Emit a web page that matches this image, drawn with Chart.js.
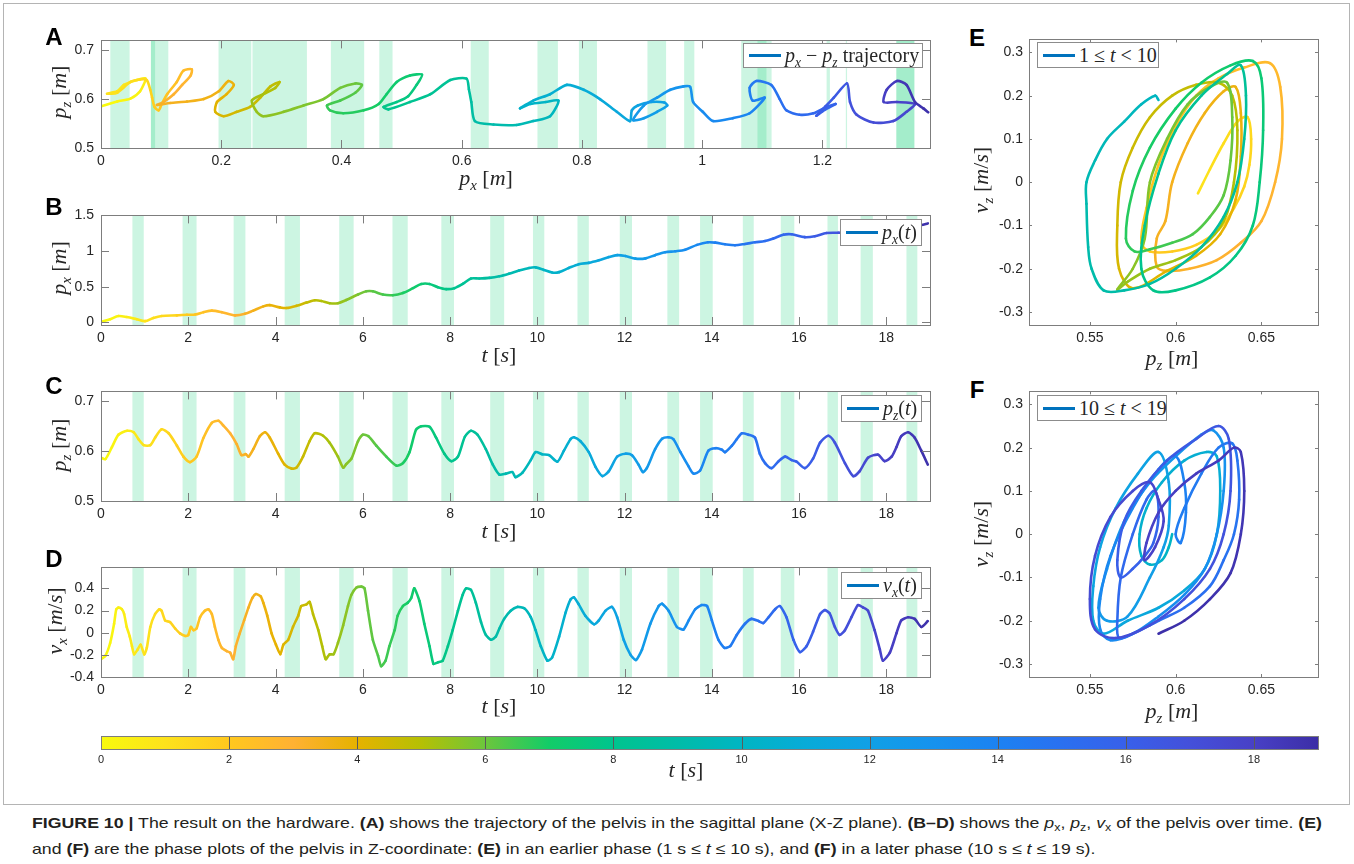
<!DOCTYPE html>
<html>
<head>
<meta charset="utf-8">
<script src="https://cdn.jsdelivr.net/npm/chart.js@4.4.1/dist/chart.umd.min.js"></script>
<style>
  body { margin: 0; background: #fff; }
  #fig { position: relative; width: 1354px; height: 864px; overflow: hidden; background: #fff;
         font-family: "Liberation Sans", Arial, sans-serif; }
  #frame { position: absolute; left: 3px; top: 3px; width: 1347px; height: 802px; border: 1px solid #b4b4b4; box-sizing: border-box; }
  canvas { position: absolute; }
  .lbl { position: absolute; white-space: nowrap; transform: translate(-50%, -50%); }
  .math { font-family: "Liberation Serif", "Times New Roman", serif; font-size: 22px; color: #262626; }
  .math sub, .leg sub { font-size: 68%; vertical-align: -0.35em; line-height: 0; }
  .rot { transform: translate(-50%, -50%) rotate(-90deg); }
  .panel { font-weight: bold; font-size: 24px; color: #000; }
  .leg { position: absolute; background: #fff; border: 1px solid #8c8c8c; box-sizing: border-box;
         display: flex; align-items: center; white-space: nowrap;
         font-family: "Liberation Serif", "Times New Roman", serif; font-size: 20px; color: #262626; }
  .leg .sw { width: 32px; height: 3px; background: #0072bd; margin: 0 4px 0 5px; flex: none; }
  .cap { position: absolute; left: 32px; white-space: nowrap; font-size: 15px; color: #231f20;
         transform-origin: 0 50%; }
  .cap sub { font-size: 70%; vertical-align: -0.25em; line-height: 0; }
</style>
</head>
<body>
<div id="fig"><div id="frame"></div></div>
<script>
// ---- data ----

// colour map: time [s] -> colour
const mapTimes = [0, 1, 2, 3, 4, 5, 6, 7, 8, 9, 10, 11, 12, 13, 14, 15, 16, 17, 18, 19];
const mapColors = ["#f8fa0d", "#fde21c", "#ffc81e", "#ffb133", "#e6b200", "#b5c004", "#6cc63c",
  "#12cc68", "#00c48e", "#00bca8", "#00b5c3", "#08abd8", "#10a0e6", "#1692ee", "#1c82f2",
  "#2a70f0", "#3860ea", "#4450da", "#4840c6", "#3c2ea6"];
const barTicks = [0, 2, 4, 6, 8, 10, 12, 14, 16, 18];

// stance phases (shaded), time axis
const stanceStart = [0.72, 1.87, 3.04, 4.21, 5.46, 6.68, 7.80, 8.92, 9.90, 10.92, 11.89, 12.98, 13.73, 14.71, 15.58, 16.65, 17.41, 18.46];
const stanceEnd   = [0.98, 2.19, 3.31, 4.56, 5.79, 7.03, 8.09, 9.24, 10.16, 11.18, 12.17, 13.25, 14.02, 14.96, 15.89, 16.89, 17.69, 18.71];
// stance phases, p_x axis (panel A)
const footStart = [0.0155, 0.083, 0.083, 0.1955, 0.252, 0.3824, 0.463, 0.615, 0.726, 0.795, 0.909, 0.970, 1.065, 1.092, 1.207, 1.239, 1.323, 1.323];
const footEnd   = [0.0476, 0.112, 0.090, 0.250, 0.3425, 0.4378, 0.485, 0.645, 0.760, 0.825, 0.940, 0.987, 1.1155, 1.107, 1.2125, 1.241, 1.353, 1.353];

// B: p_x(t)
const pxTime = [0, 0.21, 0.4, 0.59, 0.82, 1.01, 1.2, 1.39, 1.74, 1.97, 2.16, 2.35, 2.54, 2.77, 3.07, 3.3, 3.49, 3.72, 3.87, 4.1,
  4.25, 4.48, 4.71, 4.9, 5.05, 5.24, 5.43, 5.62, 5.89, 6.08, 6.23, 6.46, 6.69, 6.92, 7.15, 7.34, 7.53, 7.72, 7.91, 8.1,
  8.29, 8.48, 8.67, 8.9, 9.13, 9.35, 9.58, 9.81, 9.96, 10.15, 10.34, 10.5, 10.72, 10.95, 11.18, 11.41, 11.64, 11.83, 12.02, 12.25,
  12.48, 12.7, 12.93, 13.16, 13.39, 13.66, 13.91, 14.08, 14.3, 14.53, 14.76, 14.99, 15.22, 15.41, 15.64, 15.83, 16.13, 16.36, 16.63, 16.9,
  17.2, 17.5, 17.8, 18.1, 18.4, 18.6, 18.8, 18.95];
const pxValue = [0.010, 0.045, 0.090, 0.076, 0.045, 0.018, 0.063, 0.090, 0.099, 0.108, 0.112, 0.144, 0.166, 0.144, 0.099, 0.121, 0.166, 0.225, 0.242, 0.211,
  0.202, 0.233, 0.278, 0.310, 0.301, 0.269, 0.269, 0.314, 0.391, 0.436, 0.436, 0.391, 0.382, 0.413, 0.480, 0.539, 0.539, 0.494, 0.467, 0.480,
  0.539, 0.615, 0.615, 0.624, 0.647, 0.683, 0.727, 0.763, 0.772, 0.736, 0.700, 0.705, 0.763, 0.817, 0.835, 0.871, 0.916, 0.943, 0.930, 0.894,
  0.898, 0.943, 0.983, 0.997, 1.019, 1.087, 1.123, 1.118, 1.096, 1.082, 1.100, 1.123, 1.141, 1.177, 1.230, 1.235, 1.195, 1.208, 1.253, 1.257,
  1.260, 1.268, 1.290, 1.300, 1.330, 1.350, 1.365, 1.388];

// C: p_z(t)
const pzTime = [0, 0.1, 0.25, 0.4, 0.6, 0.75, 0.86, 0.98, 1.13, 1.24, 1.39, 1.55, 1.74, 1.89, 2.04, 2.19, 2.35, 2.54, 2.69, 2.8,
  2.96, 3.11, 3.22, 3.32, 3.38, 3.49, 3.64, 3.76, 3.87, 4.06, 4.21, 4.37, 4.48, 4.63, 4.78, 4.9, 5.09, 5.24, 5.43, 5.55,
  5.62, 5.74, 5.89, 6.0, 6.13, 6.31, 6.54, 6.77, 6.92, 7.07, 7.22, 7.34, 7.53, 7.68, 7.87, 8.03, 8.18, 8.34, 8.48, 8.63,
  8.82, 8.98, 9.13, 9.28, 9.43, 9.5, 9.66, 9.85, 9.96, 10.11, 10.27, 10.46, 10.61, 10.76, 10.84, 10.99, 11.18, 11.33, 11.49, 11.64,
  11.83, 12.02, 12.17, 12.32, 12.42, 12.51, 12.7, 12.86, 13.01, 13.12, 13.28, 13.47, 13.58, 13.73, 13.92, 14.08, 14.23, 14.3, 14.46, 14.57,
  14.69, 14.84, 14.99, 15.1, 15.22, 15.37, 15.52, 15.68, 15.83, 15.94, 16.13, 16.32, 16.48, 16.67, 16.82, 17.05, 17.24, 17.39, 17.58, 17.81,
  17.96, 18.12, 18.23, 18.34, 18.5, 18.65, 18.8, 18.95];
const pzValue = [0.587, 0.584, 0.608, 0.633, 0.641, 0.638, 0.624, 0.612, 0.612, 0.627, 0.644, 0.636, 0.611, 0.589, 0.578, 0.589, 0.627, 0.657, 0.661, 0.652,
  0.636, 0.614, 0.592, 0.594, 0.589, 0.604, 0.630, 0.638, 0.627, 0.595, 0.573, 0.565, 0.567, 0.589, 0.620, 0.636, 0.631, 0.617, 0.589, 0.567,
  0.574, 0.585, 0.620, 0.633, 0.630, 0.611, 0.589, 0.571, 0.576, 0.598, 0.643, 0.650, 0.649, 0.627, 0.595, 0.580, 0.589, 0.629, 0.641, 0.633,
  0.604, 0.573, 0.553, 0.555, 0.558, 0.548, 0.557, 0.582, 0.598, 0.594, 0.592, 0.579, 0.601, 0.624, 0.628, 0.620, 0.598, 0.569, 0.550, 0.560,
  0.589, 0.595, 0.592, 0.573, 0.558, 0.566, 0.604, 0.625, 0.628, 0.624, 0.598, 0.569, 0.555, 0.561, 0.601, 0.606, 0.603, 0.598, 0.611, 0.624,
  0.636, 0.633, 0.627, 0.595, 0.576, 0.566, 0.579, 0.589, 0.582, 0.579, 0.566, 0.585, 0.617, 0.631, 0.617, 0.576, 0.550, 0.560, 0.587, 0.593,
  0.580, 0.589, 0.608, 0.630, 0.638, 0.627, 0.601, 0.573];

// D: v_x(t)
const vxTime = [0, 0.1, 0.21, 0.3, 0.35, 0.4, 0.48, 0.53, 0.59, 0.66, 0.71, 0.76, 0.84, 0.91, 0.99, 1.05, 1.13, 1.24, 1.34, 1.39,
  1.47, 1.58, 1.7, 1.81, 1.93, 2.0, 2.06, 2.12, 2.19, 2.27, 2.38, 2.46, 2.54, 2.61, 2.69, 2.77, 2.88, 2.96, 3.03, 3.09,
  3.18, 3.28, 3.38, 3.47, 3.55, 3.66, 3.72, 3.81, 3.91, 4.01, 4.11, 4.18, 4.29, 4.4, 4.52, 4.59, 4.71, 4.78, 4.86, 4.98,
  5.07, 5.15, 5.24, 5.33, 5.43, 5.55, 5.66, 5.74, 5.85, 5.97, 6.04, 6.12, 6.23, 6.35, 6.42, 6.52, 6.61, 6.73, 6.8, 6.92,
  7.03, 7.11, 7.18, 7.3, 7.41, 7.53, 7.62, 7.72, 7.83, 7.95, 8.06, 8.18, 8.29, 8.37, 8.48, 8.59, 8.71, 8.82, 8.94, 9.05,
  9.13, 9.24, 9.39, 9.54, 9.7, 9.85, 9.96, 10.08, 10.23, 10.34, 10.5, 10.65, 10.76, 10.84, 10.95, 11.1, 11.3, 11.41, 11.56, 11.71,
  11.83, 11.98, 12.13, 12.26, 12.4, 12.59, 12.78, 12.86, 13.01, 13.2, 13.35, 13.47, 13.62, 13.77, 13.89, 14.0, 14.15, 14.29, 14.42, 14.57,
  14.76, 14.91, 15.07, 15.18, 15.3, 15.45, 15.56, 15.71, 15.87, 16.02, 16.17, 16.32, 16.48, 16.59, 16.7, 16.82, 16.93, 17.05, 17.2, 17.35,
  17.47, 17.58, 17.73, 17.85, 17.92, 18.08, 18.23, 18.34, 18.5, 18.65, 18.8, 18.95];
const vxValue = [-0.239, -0.209, -0.093, 0.081, 0.212, 0.227, 0.212, 0.169, 0.052, -0.035, -0.122, -0.195, -0.151, -0.108, -0.195, -0.137, 0.052, 0.169, 0.212, 0.198,
  0.111, 0.096, 0.038, -0.006, -0.029, -0.020, 0.052, 0.023, 0.038, 0.140, 0.198, 0.212, 0.169, 0.052, -0.064, -0.137, -0.166, -0.180, -0.239, -0.122,
  -0.006, 0.111, 0.227, 0.314, 0.349, 0.329, 0.271, 0.154, -0.006, -0.108, -0.195, -0.108, -0.064, 0.052, 0.154, 0.241, 0.256, 0.279, 0.169, 0.023,
  -0.122, -0.239, -0.195, -0.195, -0.093, 0.067, 0.241, 0.343, 0.407, 0.416, 0.401, 0.198, -0.064, -0.209, -0.303, -0.253, -0.122, 0.023, 0.154, 0.241,
  0.271, 0.314, 0.401, 0.285, 0.081, -0.122, -0.282, -0.268, -0.253, -0.122, 0.023, 0.198, 0.343, 0.401, 0.387, 0.271, 0.096, -0.020, -0.064, -0.035,
  0.038, 0.125, 0.198, 0.233, 0.221, 0.140, 0.023, -0.122, -0.253, -0.224, -0.035, 0.183, 0.300, 0.320, 0.256, 0.154, 0.076, 0.111, 0.198, 0.233,
  0.140, -0.064, -0.195, -0.247, -0.151, 0.081, 0.241, 0.262, 0.198, 0.052, 0.029, 0.111, 0.212, 0.250, 0.241, 0.111, -0.064, -0.137, -0.122, -0.020,
  0.081, 0.125, 0.105, 0.087, 0.140, 0.212, 0.241, 0.140, -0.064, -0.175, -0.122, 0.009, 0.169, 0.204, 0.175, 0.052, -0.020, 0.023, 0.140, 0.250,
  0.227, 0.198, 0.023, -0.151, -0.253, -0.180, -0.006, 0.111, 0.140, 0.125, 0.052, 0.105];

// A: p_x - p_z trajectory
const trajTime = [0, 0.15, 0.3, 0.45, 0.6, 0.7, 0.8, 0.9, 1.0, 1.1, 1.2, 1.3, 1.4, 1.6, 1.75, 1.9, 2.04, 2.15, 2.3, 2.45,
  2.58, 2.69, 2.8, 2.95, 3.1, 3.22, 3.32, 3.42, 3.5, 3.58, 3.65, 3.72, 3.8, 3.95, 4.1, 4.25, 4.37, 4.48, 4.6, 4.7,
  4.8, 4.9, 5.05, 5.2, 5.35, 5.45, 5.55, 5.65, 5.75, 5.85, 5.95, 6.05, 6.12, 6.3, 6.45, 6.6, 6.7, 6.8, 6.92, 7.02,
  7.1, 7.2, 7.3, 7.4, 7.55, 7.68, 7.8, 7.92, 8.03, 8.15, 8.28, 8.4, 8.5, 8.65, 8.8, 9.0, 9.2, 9.45, 9.7, 9.85,
  9.96, 10.1, 10.25, 10.45, 10.55, 10.7, 10.84, 11.0, 11.15, 11.32, 11.49, 11.6, 11.72, 11.85, 12.0, 12.1, 12.22, 12.35, 12.45, 12.6,
  12.72, 12.85, 12.95, 13.01, 13.25, 13.42, 13.58, 13.75, 13.9, 14.05, 14.25, 14.5, 14.69, 14.85, 15.05, 15.22, 15.37, 15.55, 15.68, 15.8,
  16.0, 16.13, 16.3, 16.45, 16.67, 16.9, 17.1, 17.24, 17.45, 17.65, 17.8, 17.95, 18.05, 18.25, 18.5, 18.62, 18.75, 18.85, 18.95];
const trajX = [0.000, 0.027, 0.049, 0.065, 0.074, 0.060, 0.038, 0.027, 0.010, 0.027, 0.049, 0.065, 0.076, 0.082, 0.085, 0.089, 0.096, 0.101, 0.110, 0.126,
  0.137, 0.151, 0.149, 0.135, 0.121, 0.104, 0.093, 0.115, 0.143, 0.171, 0.196, 0.212, 0.221, 0.209, 0.193, 0.190, 0.204, 0.226, 0.248, 0.265,
  0.282, 0.297, 0.290, 0.270, 0.251, 0.259, 0.270, 0.304, 0.337, 0.370, 0.398, 0.423, 0.434, 0.423, 0.398, 0.376, 0.381, 0.403, 0.437, 0.462,
  0.475, 0.492, 0.514, 0.534, 0.525, 0.511, 0.492, 0.470, 0.478, 0.514, 0.548, 0.581, 0.608, 0.612, 0.616, 0.622, 0.653, 0.691, 0.719, 0.747,
  0.761, 0.740, 0.714, 0.697, 0.719, 0.747, 0.775, 0.803, 0.830, 0.858, 0.880, 0.883, 0.893, 0.915, 0.937, 0.942, 0.925, 0.903, 0.885, 0.903,
  0.925, 0.947, 0.969, 0.980, 0.985, 1.001, 1.018, 1.051, 1.079, 1.104, 1.084, 1.079, 1.090, 1.115, 1.129, 1.140, 1.162, 1.185, 1.205, 1.222,
  1.200, 1.190, 1.205, 1.219, 1.241, 1.246, 1.257, 1.285, 1.318, 1.340, 1.354, 1.324, 1.302, 1.307, 1.324, 1.340, 1.354, 1.368, 1.376];
const trajZ = [0.585, 0.595, 0.601, 0.616, 0.642, 0.639, 0.629, 0.616, 0.611, 0.613, 0.635, 0.640, 0.639, 0.619, 0.603, 0.584, 0.577, 0.590, 0.610, 0.635,
  0.658, 0.661, 0.648, 0.629, 0.610, 0.594, 0.588, 0.592, 0.595, 0.600, 0.616, 0.637, 0.629, 0.610, 0.594, 0.574, 0.565, 0.574, 0.584, 0.603,
  0.626, 0.635, 0.623, 0.610, 0.597, 0.574, 0.565, 0.574, 0.587, 0.600, 0.623, 0.632, 0.629, 0.613, 0.597, 0.587, 0.577, 0.571, 0.577, 0.590,
  0.610, 0.635, 0.648, 0.650, 0.629, 0.606, 0.594, 0.584, 0.579, 0.594, 0.610, 0.639, 0.642, 0.620, 0.594, 0.555, 0.548, 0.547, 0.555, 0.565,
  0.597, 0.594, 0.590, 0.581, 0.597, 0.610, 0.629, 0.619, 0.600, 0.574, 0.555, 0.577, 0.587, 0.594, 0.593, 0.587, 0.574, 0.561, 0.557, 0.587,
  0.603, 0.619, 0.626, 0.625, 0.594, 0.574, 0.555, 0.561, 0.571, 0.603, 0.597, 0.623, 0.637, 0.629, 0.600, 0.577, 0.568, 0.571, 0.583, 0.590,
  0.575, 0.566, 0.585, 0.603, 0.632, 0.594, 0.568, 0.552, 0.555, 0.574, 0.590, 0.594, 0.594, 0.619, 0.637, 0.629, 0.594, 0.581, 0.573];

// E: phase plot, 1 <= t < 10
const earlyTime = [1.0, 1.1, 1.2, 1.3, 1.38, 1.45, 1.5, 1.58, 1.67, 1.76, 1.85, 1.94, 2.0, 2.04, 2.12, 2.2, 2.3, 2.4, 2.5, 2.6,
  2.66, 2.72, 2.8, 2.88, 2.96, 3.05, 3.13, 3.2, 3.27, 3.32, 3.36, 3.38, 3.45, 3.52, 3.6, 3.67, 3.72, 3.78, 3.84, 3.92,
  4.0, 4.08, 4.16, 4.25, 4.33, 4.4, 4.47, 4.55, 4.62, 4.7, 4.78, 4.84, 4.9, 4.96, 5.05, 5.15, 5.25, 5.33, 5.4, 5.48,
  5.55, 5.6, 5.66, 5.75, 5.82, 5.88, 5.94, 5.98, 6.04, 6.1, 6.2, 6.3, 6.4, 6.5, 6.6, 6.7, 6.78, 6.86, 6.95, 7.05,
  7.13, 7.22, 7.3, 7.38, 7.46, 7.55, 7.63, 7.72, 7.8, 7.88, 7.95, 8.02, 8.08, 8.15, 8.22, 8.3, 8.37, 8.43, 8.5, 8.56,
  8.63, 8.7, 8.78, 8.86, 8.93, 9.0, 9.07, 9.13, 9.2, 9.3, 9.45, 9.55, 9.65, 9.75, 9.85, 9.93, 9.99];
const earlyPz = [0.613, 0.620, 0.628, 0.636, 0.642, 0.644, 0.643, 0.640, 0.634, 0.625, 0.612, 0.598, 0.585, 0.580, 0.583, 0.590, 0.600, 0.612, 0.625, 0.640,
  0.655, 0.661, 0.662, 0.658, 0.650, 0.638, 0.624, 0.608, 0.595, 0.589, 0.589, 0.594, 0.598, 0.607, 0.617, 0.628, 0.635, 0.638, 0.638, 0.635,
  0.626, 0.612, 0.595, 0.575, 0.567, 0.566, 0.568, 0.575, 0.585, 0.598, 0.612, 0.625, 0.633, 0.636, 0.634, 0.628, 0.615, 0.600, 0.585, 0.572,
  0.566, 0.575, 0.582, 0.585, 0.595, 0.607, 0.620, 0.630, 0.633, 0.632, 0.628, 0.620, 0.610, 0.598, 0.585, 0.576, 0.571, 0.575, 0.585, 0.600,
  0.615, 0.632, 0.645, 0.650, 0.651, 0.649, 0.645, 0.635, 0.620, 0.600, 0.587, 0.580, 0.582, 0.590, 0.600, 0.615, 0.630, 0.638, 0.641, 0.640,
  0.636, 0.628, 0.615, 0.600, 0.585, 0.570, 0.558, 0.551, 0.549, 0.548, 0.548, 0.553, 0.560, 0.570, 0.580, 0.588, 0.590];
const earlyVz = [-0.026, 0.030, 0.090, 0.140, 0.150, 0.100, 0.040, -0.010, -0.060, -0.110, -0.145, -0.160, -0.160, -0.140, -0.060, 0.040, 0.130, 0.200, 0.240, 0.265,
  0.275, 0.220, 0.100, 0.000, -0.090, -0.140, -0.180, -0.200, -0.205, -0.195, -0.130, -0.090, 0.000, 0.090, 0.160, 0.210, 0.220, 0.160, 0.060, -0.040,
  -0.120, -0.170, -0.205, -0.245, -0.200, -0.100, 0.000, 0.080, 0.150, 0.200, 0.225, 0.230, 0.200, 0.120, 0.000, -0.090, -0.150, -0.180, -0.200, -0.230,
  -0.248, -0.200, -0.130, 0.000, 0.100, 0.180, 0.220, 0.230, 0.150, 0.050, -0.030, -0.080, -0.120, -0.140, -0.155, -0.160, -0.130, -0.020, 0.080, 0.170,
  0.230, 0.270, 0.280, 0.240, 0.120, 0.000, -0.100, -0.170, -0.220, -0.250, -0.250, -0.200, -0.100, 0.020, 0.120, 0.200, 0.250, 0.270, 0.200, 0.100,
  0.000, -0.080, -0.150, -0.200, -0.235, -0.250, -0.250, -0.200, -0.150, -0.050, 0.000, 0.050, 0.100, 0.140, 0.180, 0.200, 0.190];

// F: phase plot, 10 <= t < 19
const lateTime = [10.0, 10.1, 10.2, 10.3, 10.4, 10.46, 10.55, 10.62, 10.7, 10.78, 10.84, 10.92, 11.0, 11.1, 11.2, 11.28, 11.36, 11.44, 11.5, 11.56,
  11.64, 11.72, 11.8, 11.9, 11.98, 12.05, 12.15, 12.25, 12.35, 12.42, 12.46, 12.52, 12.6, 12.68, 12.76, 12.85, 12.92, 13.0, 13.08, 13.15,
  13.22, 13.3, 13.38, 13.46, 13.52, 13.58, 13.64, 13.72, 13.82, 13.92, 14.0, 14.08, 14.15, 14.25, 14.32, 14.42, 14.5, 14.58, 14.66, 14.72,
  14.8, 14.88, 14.96, 15.04, 15.12, 15.2, 15.28, 15.34, 15.38, 15.44, 15.5, 15.58, 15.64, 15.72, 15.8, 15.9, 16.0, 16.08, 16.14, 16.22,
  16.3, 16.4, 16.5, 16.6, 16.68, 16.76, 16.84, 16.92, 17.0, 17.08, 17.16, 17.22, 17.28, 17.36, 17.44, 17.52, 17.6, 17.7, 17.8, 17.88,
  17.96, 18.02, 18.1, 18.18, 18.26, 18.34, 18.42, 18.5, 18.58, 18.66, 18.74, 18.82, 18.9, 18.97];
const latePz = [0.598, 0.596, 0.592, 0.585, 0.580, 0.579, 0.583, 0.592, 0.605, 0.618, 0.624, 0.626, 0.624, 0.617, 0.605, 0.590, 0.572, 0.558, 0.552, 0.552,
  0.556, 0.565, 0.578, 0.590, 0.596, 0.596, 0.593, 0.585, 0.572, 0.560, 0.555, 0.560, 0.570, 0.585, 0.600, 0.615, 0.622, 0.628, 0.628, 0.624,
  0.617, 0.605, 0.590, 0.575, 0.562, 0.556, 0.556, 0.562, 0.575, 0.590, 0.600, 0.605, 0.606, 0.603, 0.600, 0.605, 0.615, 0.625, 0.633, 0.636,
  0.637, 0.634, 0.628, 0.620, 0.605, 0.590, 0.575, 0.567, 0.566, 0.568, 0.575, 0.583, 0.588, 0.590, 0.587, 0.582, 0.575, 0.568, 0.566, 0.570,
  0.580, 0.595, 0.612, 0.625, 0.631, 0.632, 0.628, 0.620, 0.605, 0.585, 0.565, 0.553, 0.550, 0.553, 0.562, 0.575, 0.585, 0.590, 0.593, 0.588,
  0.582, 0.583, 0.590, 0.600, 0.612, 0.625, 0.634, 0.638, 0.640, 0.638, 0.632, 0.620, 0.605, 0.590];
const lateVz = [0.000, -0.030, -0.060, -0.070, -0.050, 0.000, 0.060, 0.120, 0.170, 0.190, 0.180, 0.100, 0.000, -0.080, -0.130, -0.170, -0.200, -0.230, -0.200, -0.120,
  -0.030, 0.060, 0.140, 0.190, 0.120, 0.020, -0.030, -0.100, -0.190, -0.200, -0.170, -0.080, 0.030, 0.120, 0.180, 0.230, 0.240, 0.200, 0.100, 0.000,
  -0.080, -0.140, -0.190, -0.230, -0.245, -0.220, -0.150, -0.050, 0.060, 0.150, 0.180, 0.120, 0.050, -0.020, 0.000, 0.060, 0.140, 0.200, 0.210, 0.170,
  0.080, 0.000, -0.060, -0.120, -0.170, -0.200, -0.230, -0.240, -0.200, -0.100, 0.000, 0.080, 0.100, 0.040, -0.020, -0.050, -0.080, -0.100, -0.060, 0.030,
  0.100, 0.170, 0.220, 0.250, 0.220, 0.100, 0.000, -0.080, -0.150, -0.210, -0.240, -0.220, -0.150, -0.050, 0.040, 0.100, 0.120, 0.080, 0.030, -0.030,
  -0.060, -0.020, 0.050, 0.100, 0.140, 0.170, 0.200, 0.190, 0.100, 0.000, -0.090, -0.150, -0.200, -0.230];

// ---- drawing ----
const AXIS_GREY = "#7d7d7d";
const TICK_TEXT = "#262626";
const BAND_FILL = "rgba(0, 204, 112, 0.2)";
const tickFont = { family: "'Liberation Sans', Arial, sans-serif", size: 14 };
const fig = document.getElementById("fig");

const mapRgb = mapColors.map((h) => [1, 3, 5].map((k) => parseInt(h.substr(k, 2), 16)));
function colourAt(t) {
  if (t <= mapTimes[0]) return mapColors[0];
  for (let i = 1; i < mapTimes.length; i++) {
    if (t <= mapTimes[i]) {
      const f = (t - mapTimes[i - 1]) / (mapTimes[i] - mapTimes[i - 1]);
      const a = mapRgb[i - 1], b = mapRgb[i];
      return "rgb(" + a.map((v, k) => Math.round(v + (b[k] - v) * f)).join(",") + ")";
    }
  }
  return mapColors[mapColors.length - 1];
}

function fmt(v) {
  return String(Number(v.toFixed(3)));
}

// shaded bands behind the data, box and inward ticks on top (matlab look)
function axesDecor(starts, ends, tickLen) {
  return {
    id: "axesDecor",
    beforeDatasetsDraw(chart) {
      const { ctx, chartArea: a, scales } = chart;
      ctx.save();
      ctx.beginPath();
      ctx.rect(a.left, a.top, a.right - a.left, a.bottom - a.top);
      ctx.clip();
      ctx.fillStyle = BAND_FILL;
      for (let i = 0; i < starts.length; i++) {
        const x0 = scales.x.getPixelForValue(starts[i]);
        const x1 = scales.x.getPixelForValue(ends[i]);
        ctx.fillRect(x0, a.top, Math.max(1, x1 - x0), a.bottom - a.top);
      }
      ctx.restore();
    },
    afterDraw(chart) {
      const { ctx, chartArea: a, scales: { x, y } } = chart;
      ctx.save();
      ctx.strokeStyle = AXIS_GREY;
      ctx.lineWidth = 1;
      ctx.beginPath();
      x.ticks.forEach((t) => {
        const p = Math.round(x.getPixelForValue(t.value)) + 0.5;
        ctx.moveTo(p, a.bottom); ctx.lineTo(p, a.bottom - tickLen);
        ctx.moveTo(p, a.top); ctx.lineTo(p, a.top + tickLen);
      });
      y.ticks.forEach((t) => {
        const p = Math.round(y.getPixelForValue(t.value)) + 0.5;
        ctx.moveTo(a.left, p); ctx.lineTo(a.left + tickLen, p);
        ctx.moveTo(a.right, p); ctx.lineTo(a.right - tickLen, p);
      });
      ctx.stroke();
      ctx.strokeRect(Math.round(a.left) + 0.5, Math.round(a.top) + 0.5,
        Math.round(a.right - a.left), Math.round(a.bottom - a.top));
      ctx.restore();
    },
  };
}

function addCanvas(box) {
  const c = document.createElement("canvas");
  c.width = box.w; c.height = box.h;
  c.style.left = box.left + "px"; c.style.top = box.top + "px";
  c.style.width = box.w + "px"; c.style.height = box.h + "px";
  fig.appendChild(c);
  return c;
}

// box: canvas position; plot: wanted plot-area edges in page pixels
function makeAxes(box, plot, xs, ys, times, xVals, yVals, bands, tension) {
  const canvas = addCanvas(box);
  const tickLen = Math.round(0.01 * Math.max(plot.r - plot.l, plot.b - plot.t));
  const data = xVals.map((v, i) => ({ x: v, y: yVals[i] }));
  return new Chart(canvas, {
    type: "line",
    data: {
      datasets: [{
        data: data,
        borderWidth: 2.6,
        borderColor: colourAt(times[0]),
        borderCapStyle: "round",
        borderJoinStyle: "round",
        pointRadius: 0,
        tension: tension,
        segment: { borderColor: (c) => colourAt(times[c.p0DataIndex]) },
      }],
    },
    options: {
      responsive: false,
      animation: false,
      events: [],
      layout: { padding: { top: plot.t - box.top, right: box.left + box.w - plot.r, left: 0, bottom: 0 } },
      plugins: { legend: { display: false }, tooltip: { enabled: false } },
      scales: {
        x: {
          type: "linear", min: xs.min, max: xs.max,
          grid: { display: false, drawTicks: false }, border: { display: false },
          ticks: { stepSize: xs.step, includeBounds: false, autoSkip: false, maxRotation: 0,
                   padding: xs.pad, color: TICK_TEXT, font: tickFont, callback: fmt },
          afterFit: (s) => { s.height = box.top + box.h - plot.b; },
        },
        y: {
          type: "linear", min: ys.min, max: ys.max,
          grid: { display: false, drawTicks: false }, border: { display: false },
          ticks: { stepSize: ys.step, includeBounds: false, autoSkip: false,
                   padding: ys.pad, color: TICK_TEXT, font: tickFont, callback: fmt },
          afterFit: (s) => { s.width = plot.l - box.left; },
        },
      },
    },
    plugins: [axesDecor(bands[0], bands[1], tickLen)],
  });
}

// A
makeAxes({ left: 40, top: 25, w: 900, h: 150 }, { l: 101, t: 35, r: 930, b: 148 },
  { min: 0, max: 1.379, step: 0.2, pad: 5 }, { min: 0.5, max: 0.72, step: 0.1, pad: 7 },
  trajTime, trajX, trajZ, [footStart, footEnd], 0.25);
// B
makeAxes({ left: 40, top: 200, w: 900, h: 150 }, { l: 101, t: 211, r: 930, b: 325 },
  { min: 0, max: 19, step: 2, pad: 5 }, { min: -0.036, max: 1.5, step: 0.5, pad: 7 },
  pxTime, pxTime, pxValue, [stanceStart, stanceEnd], 0.3);
// C
makeAxes({ left: 40, top: 376, w: 900, h: 150 }, { l: 101, t: 387, r: 930, b: 501 },
  { min: 0, max: 19, step: 2, pad: 5 }, { min: 0.5, max: 0.72, step: 0.1, pad: 7 },
  pzTime, pzTime, pzValue, [stanceStart, stanceEnd], 0.25);
// D
makeAxes({ left: 40, top: 552, w: 900, h: 150 }, { l: 101, t: 563, r: 930, b: 677 },
  { min: 0, max: 19, step: 2, pad: 5 }, { min: -0.4, max: 0.59, step: 0.2, pad: 7 },
  vxTime, vxTime, vxValue, [stanceStart, stanceEnd], 0.2);
// E
makeAxes({ left: 990, top: 25, w: 345, h: 325 }, { l: 1029, t: 35, r: 1318, b: 325 },
  { min: 0.5145, max: 0.683, step: 0.05, pad: 5 }, { min: -0.33, max: 0.33, step: 0.1, pad: 6 },
  earlyTime, earlyPz, earlyVz, [[], []], 0.35);
// F
makeAxes({ left: 990, top: 377, w: 345, h: 325 }, { l: 1029, t: 387, r: 1318, b: 677 },
  { min: 0.5145, max: 0.683, step: 0.05, pad: 5 }, { min: -0.33, max: 0.33, step: 0.1, pad: 6 },
  lateTime, latePz, lateVz, [[], []], 0.35);

// colour bar
(function () {
  const box = { left: 80, top: 726, w: 1260, h: 52 };
  const plot = { l: 101, t: 736, r: 1318, b: 749 };
  const gradient = {
    id: "gradient",
    beforeDatasetsDraw(chart) {
      const { ctx, chartArea: a, scales: { x } } = chart;
      const g = ctx.createLinearGradient(a.left, 0, a.right, 0);
      mapTimes.forEach((t, i) => g.addColorStop((x.getPixelForValue(t) - a.left) / (a.right - a.left), mapColors[i]));
      ctx.save();
      ctx.fillStyle = g;
      ctx.fillRect(a.left, a.top, a.right - a.left, a.bottom - a.top);
      ctx.strokeStyle = "#5a5a5a";
      ctx.lineWidth = 1;
      ctx.beginPath();
      barTicks.forEach((t) => {
        const p = Math.round(x.getPixelForValue(t)) + 0.5;
        ctx.moveTo(p, a.top); ctx.lineTo(p, a.bottom);
      });
      ctx.stroke();
      ctx.strokeStyle = AXIS_GREY;
      ctx.strokeRect(Math.round(a.left) + 0.5, Math.round(a.top) + 0.5, Math.round(a.right - a.left), Math.round(a.bottom - a.top));
      ctx.restore();
    },
  };
  new Chart(addCanvas(box), {
    type: "line",
    data: { datasets: [{ data: [] }] },
    options: {
      responsive: false,
      animation: false,
      events: [],
      layout: { padding: { top: plot.t - box.top, right: box.left + box.w - plot.r, left: plot.l - box.left, bottom: 0 } },
      plugins: { legend: { display: false }, tooltip: { enabled: false } },
      scales: {
        x: {
          type: "linear", min: 0, max: 19,
          grid: { display: false, drawTicks: false }, border: { display: false },
          afterBuildTicks: (s) => { s.ticks = barTicks.map((v) => ({ value: v })); },
          ticks: { padding: 4, color: TICK_TEXT, font: { family: tickFont.family, size: 11 }, maxRotation: 0, autoSkip: false },
          afterFit: (s) => { s.height = box.top + box.h - plot.b; },
        },
        y: { display: false, min: 0, max: 1 },
      },
    },
    plugins: [gradient],
  });
})();

// ---- text ----
function put(cls, html, x, y) {
  const d = document.createElement("div");
  d.className = "lbl " + cls;
  d.innerHTML = html;
  d.style.left = x + "px";
  d.style.top = y + "px";
  fig.appendChild(d);
  return d;
}
function sym(v, s) { return "<i>" + v + "</i><sub><i>" + s + "</i></sub>"; }
const unitM = "&nbsp;[<i>m</i>]";
const unitMS = "&nbsp;[<i>m</i>/<i>s</i>]";
const tLabel = "<i>t</i>&nbsp;[<i>s</i>]";

[["A", 54, 37], ["B", 54, 207], ["C", 54, 386], ["D", 54, 559], ["E", 977, 38], ["F", 977, 390]]
  .forEach((p) => put("panel", p[0], p[1], p[2]));

put("math rot", sym("p", "z") + unitM, 59, 92);
put("math", sym("p", "x") + unitM, 486, 178);
put("math rot", sym("p", "x") + unitM, 59, 268);
put("math", tLabel, 499, 355);
put("math rot", sym("p", "z") + unitM, 59, 445);
put("math", tLabel, 499, 531);
put("math rot", sym("v", "x") + unitMS, 55, 621);
put("math", tLabel, 499, 706);
put("math rot", sym("v", "z") + unitMS, 981, 180);
put("math", sym("p", "z") + unitM, 1172, 358);
put("math rot", sym("v", "z") + unitMS, 981, 534);
put("math", sym("p", "z") + unitM, 1172, 711);
put("math", tLabel, 686, 770);

function legend(html, l, t, r, b) {
  const d = document.createElement("div");
  d.className = "leg";
  d.innerHTML = '<span class="sw"></span><span>' + html + "</span>";
  d.style.left = l + "px"; d.style.top = t + "px";
  d.style.width = (r - l) + "px"; d.style.height = (b - t) + "px";
  fig.appendChild(d);
}
legend(sym("p", "x") + " &minus; " + sym("p", "z") + " trajectory", 743, 43, 923, 68);
legend(sym("p", "x") + "(<i>t</i>)", 840, 219, 922, 246);
legend(sym("p", "z") + "(<i>t</i>)", 841, 395, 922, 422);
legend(sym("v", "x") + "(<i>t</i>)", 841, 572, 922, 599);
legend("1 &le; <i>t</i> &lt; 10", 1037, 42, 1159, 68);
legend("10 &le; <i>t</i> &lt; 19", 1037, 395, 1167, 421);

// caption
const capLines = [
  "<b>FIGURE 10</b> <b>|</b> The result on the hardware. <b>(A)</b> shows the trajectory of the pelvis in the sagittal plane (X-Z plane). " +
    "<b>(B–D)</b> shows the <i>p</i><sub>x</sub>, <i>p</i><sub>z</sub>, <i>v</i><sub>x</sub> of the pelvis over time. <b>(E)</b>",
  "and <b>(F)</b> are the phase plots of the pelvis in Z-coordinate: <b>(E)</b> in an earlier phase (1 s &le; <i>t</i> &le; 10 s), " +
    "and <b>(F)</b> in a later phase (10 s &le; <i>t</i> &le; 19 s).",
];
const capY = [823, 849];
const capEls = capLines.map((h, i) => {
  const d = document.createElement("div");
  d.className = "cap";
  d.innerHTML = h;
  d.style.top = (capY[i] - 9) + "px";
  fig.appendChild(d);
  return d;
});
const squeeze = 1290 / capEls[0].getBoundingClientRect().width;
capEls.forEach((d) => { d.style.transform = "scaleX(" + squeeze + ")"; });
</script>
</body>
</html>
